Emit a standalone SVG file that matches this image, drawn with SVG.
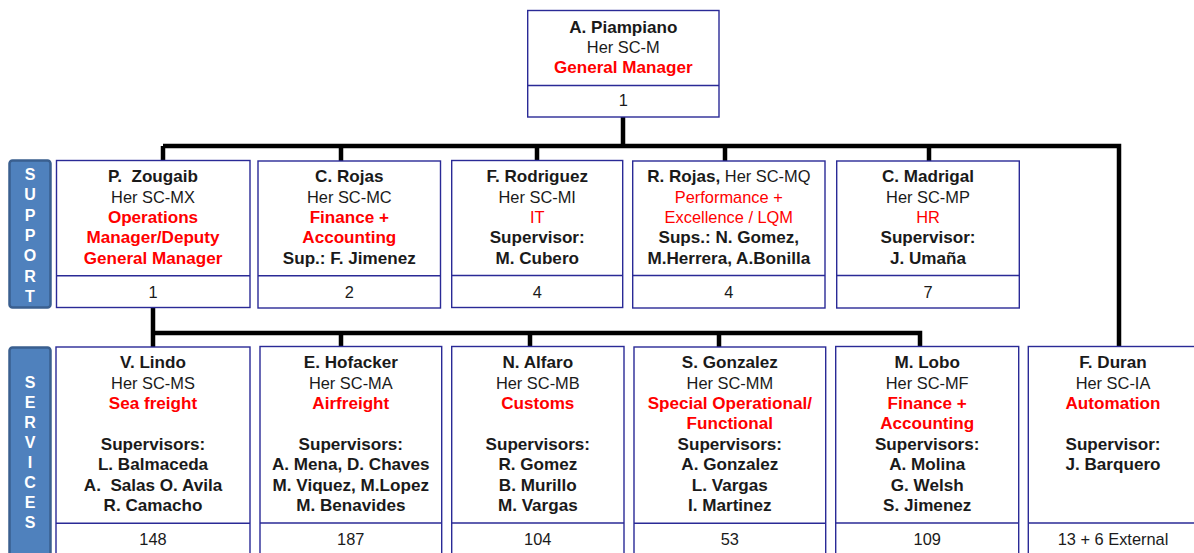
<svg xmlns="http://www.w3.org/2000/svg" width="1194" height="553" viewBox="0 0 1194 553">
<style>
text{font-family:"Liberation Sans",Arial,sans-serif;text-anchor:middle;fill:#1a1a1a}
.b{font-weight:bold;font-size:17.1px}
.r{font-size:16.4px}
.red{fill:#ff0000}
.box{fill:#ffffff;stroke:#2a2a96;stroke-width:1.4}
.div{stroke:#2a2a96;stroke-width:1.4}
.conn{fill:none;stroke:#000;stroke-width:4.5;stroke-linejoin:miter}
.lbl{fill:#4f81bd;stroke:#3a5f8f;stroke-width:2.5}
.lt{fill:#fff;font-weight:bold;font-size:16px}
</style>
<rect width="1194" height="553" fill="#fff"/>
<g id="connectors">
<path class="conn" d="M623 117V146M163 146H1119V347M163 146V161M341 146V161M537 146V161M725 146V161M929 146V161"/>
<path class="conn" d="M153 308V347M153 333H920V347M341 333V347M530 333V347M719 333V347"/>
</g>
<g id="label-support">
<rect class="lbl" x="9.5" y="160.5" width="41" height="147" rx="3"/>
<text class="lt" x="30" y="180">S</text>
<text class="lt" x="30" y="200.3">U</text>
<text class="lt" x="30" y="220.6">P</text>
<text class="lt" x="30" y="240.9">P</text>
<text class="lt" x="30" y="261.2">O</text>
<text class="lt" x="30" y="281.5">R</text>
<text class="lt" x="30" y="301.8">T</text>
</g>
<g id="label-services">
<rect class="lbl" x="9.5" y="347.5" width="41" height="215" rx="3"/>
<text class="lt" x="30" y="387.5">S</text>
<text class="lt" x="30" y="407.6">E</text>
<text class="lt" x="30" y="427.7">R</text>
<text class="lt" x="30" y="447.8">V</text>
<text class="lt" x="30" y="467.9">I</text>
<text class="lt" x="30" y="488">C</text>
<text class="lt" x="30" y="508.1">E</text>
<text class="lt" x="30" y="528.2">S</text>
</g>
<g id="n-piampiano">
<rect class="box" x="527.7" y="10.5" width="191.3" height="106.5"/>
<line class="div" x1="527.7" y1="85.5" x2="719" y2="85.5"/>
<text class="b" x="623.3" y="33">A. Piampiano</text>
<text class="r" x="623.3" y="53">Her SC-M</text>
<text class="b red" x="623.3" y="73.4">General Manager</text>
<text class="r" x="623.3" y="105.7">1</text>
</g>
<g id="n-zougaib">
<rect class="box" x="56.5" y="160.5" width="193.5" height="147"/>
<line class="div" x1="56.5" y1="275.7" x2="250" y2="275.7"/>
<text class="b" x="153" y="182.4" xml:space="preserve">P.  Zougaib</text>
<text class="r" x="153" y="202.7">Her SC-MX</text>
<text class="b red" x="153" y="223">Operations</text>
<text class="b red" x="153" y="243.3">Manager/Deputy</text>
<text class="b red" x="153" y="263.6">General Manager</text>
<text class="r" x="153" y="297.5">1</text>
</g>
<g id="n-crojas">
<rect class="box" x="258" y="161" width="182.5" height="147"/>
<line class="div" x1="258" y1="275.7" x2="440.5" y2="275.7"/>
<text class="b" x="349.3" y="182.4">C. Rojas</text>
<text class="r" x="349.3" y="202.7">Her SC-MC</text>
<text class="b red" x="349.3" y="223">Finance +</text>
<text class="b red" x="349.3" y="243.3">Accounting</text>
<text class="b" x="349.3" y="263.6">Sup.: F. Jimenez</text>
<text class="r" x="349.3" y="297.5">2</text>
</g>
<g id="n-rodriguez">
<rect class="box" x="451.7" y="160.5" width="171" height="147"/>
<line class="div" x1="451.7" y1="275.5" x2="622.7" y2="275.5"/>
<text class="b" x="537.2" y="182.4">F. Rodriguez</text>
<text class="r" x="537.2" y="202.7">Her SC-MI</text>
<text class="r red" x="537.2" y="223">IT</text>
<text class="b" x="537.2" y="243.3">Supervisor:</text>
<text class="b" x="537.2" y="263.6">M. Cubero</text>
<text class="r" x="537.2" y="297.5">4</text>
</g>
<g id="n-rrojas">
<rect class="box" x="632.7" y="161" width="192.3" height="147"/>
<line class="div" x1="632.7" y1="275.5" x2="825" y2="275.5"/>
<text x="728.8" y="182.4"><tspan class="b">R. Rojas,</tspan><tspan class="r"> Her SC-MQ</tspan></text>
<text class="r red" x="728.8" y="202.7">Performance +</text>
<text class="r red" x="728.8" y="223">Excellence / LQM</text>
<text class="b" x="728.8" y="243.3">Sups.: N. Gomez,</text>
<text class="b" x="728.8" y="263.6">M.Herrera, A.Bonilla</text>
<text class="r" x="728.8" y="297.5">4</text>
</g>
<g id="n-madrigal">
<rect class="box" x="836.7" y="161" width="182.6" height="147"/>
<line class="div" x1="836.7" y1="275.5" x2="1019.3" y2="275.5"/>
<text class="b" x="928" y="182.4">C. Madrigal</text>
<text class="r" x="928" y="202.7">Her SC-MP</text>
<text class="r red" x="928" y="223">HR</text>
<text class="b" x="928" y="243.3">Supervisor:</text>
<text class="b" x="928" y="263.6">J. Umaña</text>
<text class="r" x="928" y="297.5">7</text>
</g>
<g id="n-lindo">
<rect class="box" x="56" y="347" width="194" height="220"/>
<line class="div" x1="56" y1="523.3" x2="250" y2="523.3"/>
<text class="b" x="153" y="368.4">V. Lindo</text>
<text class="r" x="153" y="388.7">Her SC-MS</text>
<text class="b red" x="153" y="409">Sea freight</text>
<text class="b" x="153" y="450">Supervisors:</text>
<text class="b" x="153" y="470.4">L. Balmaceda</text>
<text class="b" x="153" y="490.7" xml:space="preserve">A.  Salas O. Avila</text>
<text class="b" x="153" y="511">R. Camacho</text>
<text class="r" x="153" y="544.7">148</text>
</g>
<g id="n-hofacker">
<rect class="box" x="260" y="346.5" width="181.7" height="220"/>
<line class="div" x1="260" y1="523" x2="441.7" y2="523"/>
<text class="b" x="350.8" y="368.4">E. Hofacker</text>
<text class="r" x="350.8" y="388.7">Her SC-MA</text>
<text class="b red" x="350.8" y="409">Airfreight</text>
<text class="b" x="350.8" y="450">Supervisors:</text>
<text class="b" x="350.8" y="470.4">A. Mena, D. Chaves</text>
<text class="b" x="350.8" y="490.7">M. Viquez, M.Lopez</text>
<text class="b" x="350.8" y="511">M. Benavides</text>
<text class="r" x="350.8" y="544.7">187</text>
</g>
<g id="n-alfaro">
<rect class="box" x="451.7" y="346.5" width="172.3" height="220"/>
<line class="div" x1="451.7" y1="523" x2="624" y2="523"/>
<text class="b" x="537.8" y="368.4">N. Alfaro</text>
<text class="r" x="537.8" y="388.7">Her SC-MB</text>
<text class="b red" x="537.8" y="409">Customs</text>
<text class="b" x="537.8" y="450">Supervisors:</text>
<text class="b" x="537.8" y="470.4">R. Gomez</text>
<text class="b" x="537.8" y="490.7">B. Murillo</text>
<text class="b" x="537.8" y="511">M. Vargas</text>
<text class="r" x="537.8" y="544.7">104</text>
</g>
<g id="n-gonzalez">
<rect class="box" x="634" y="347" width="191.7" height="220"/>
<line class="div" x1="634" y1="523.3" x2="825.7" y2="523.3"/>
<text class="b" x="729.8" y="368.4">S. Gonzalez</text>
<text class="r" x="729.8" y="388.7">Her SC-MM</text>
<text class="b red" x="729.8" y="409">Special Operational/</text>
<text class="b red" x="729.8" y="429.3">Functional</text>
<text class="b" x="729.8" y="450">Supervisors:</text>
<text class="b" x="729.8" y="470.4">A. Gonzalez</text>
<text class="b" x="729.8" y="490.7">L. Vargas</text>
<text class="b" x="729.8" y="511">I. Martinez</text>
<text class="r" x="729.8" y="544.7">53</text>
</g>
<g id="n-lobo">
<rect class="box" x="835.7" y="346.5" width="183" height="220"/>
<line class="div" x1="835.7" y1="523" x2="1018.7" y2="523"/>
<text class="b" x="927.2" y="368.4">M. Lobo</text>
<text class="r" x="927.2" y="388.7">Her SC-MF</text>
<text class="b red" x="927.2" y="409">Finance +</text>
<text class="b red" x="927.2" y="429.3">Accounting</text>
<text class="b" x="927.2" y="450">Supervisors:</text>
<text class="b" x="927.2" y="470.4">A. Molina</text>
<text class="b" x="927.2" y="490.7">G. Welsh</text>
<text class="b" x="927.2" y="511">S. Jimenez</text>
<text class="r" x="927.2" y="544.7">109</text>
</g>
<g id="n-duran">
<rect class="box" x="1028.3" y="346.5" width="170" height="220"/>
<line class="div" x1="1028.3" y1="523" x2="1198.3" y2="523"/>
<text class="b" x="1113" y="368.4">F. Duran</text>
<text class="r" x="1113" y="388.7">Her SC-IA</text>
<text class="b red" x="1113" y="409">Automation</text>
<text class="b" x="1113" y="450">Supervisor:</text>
<text class="b" x="1113" y="470.4">J. Barquero</text>
<text class="r" x="1113" y="544.7">13 + 6 External</text>
</g>
</svg>
